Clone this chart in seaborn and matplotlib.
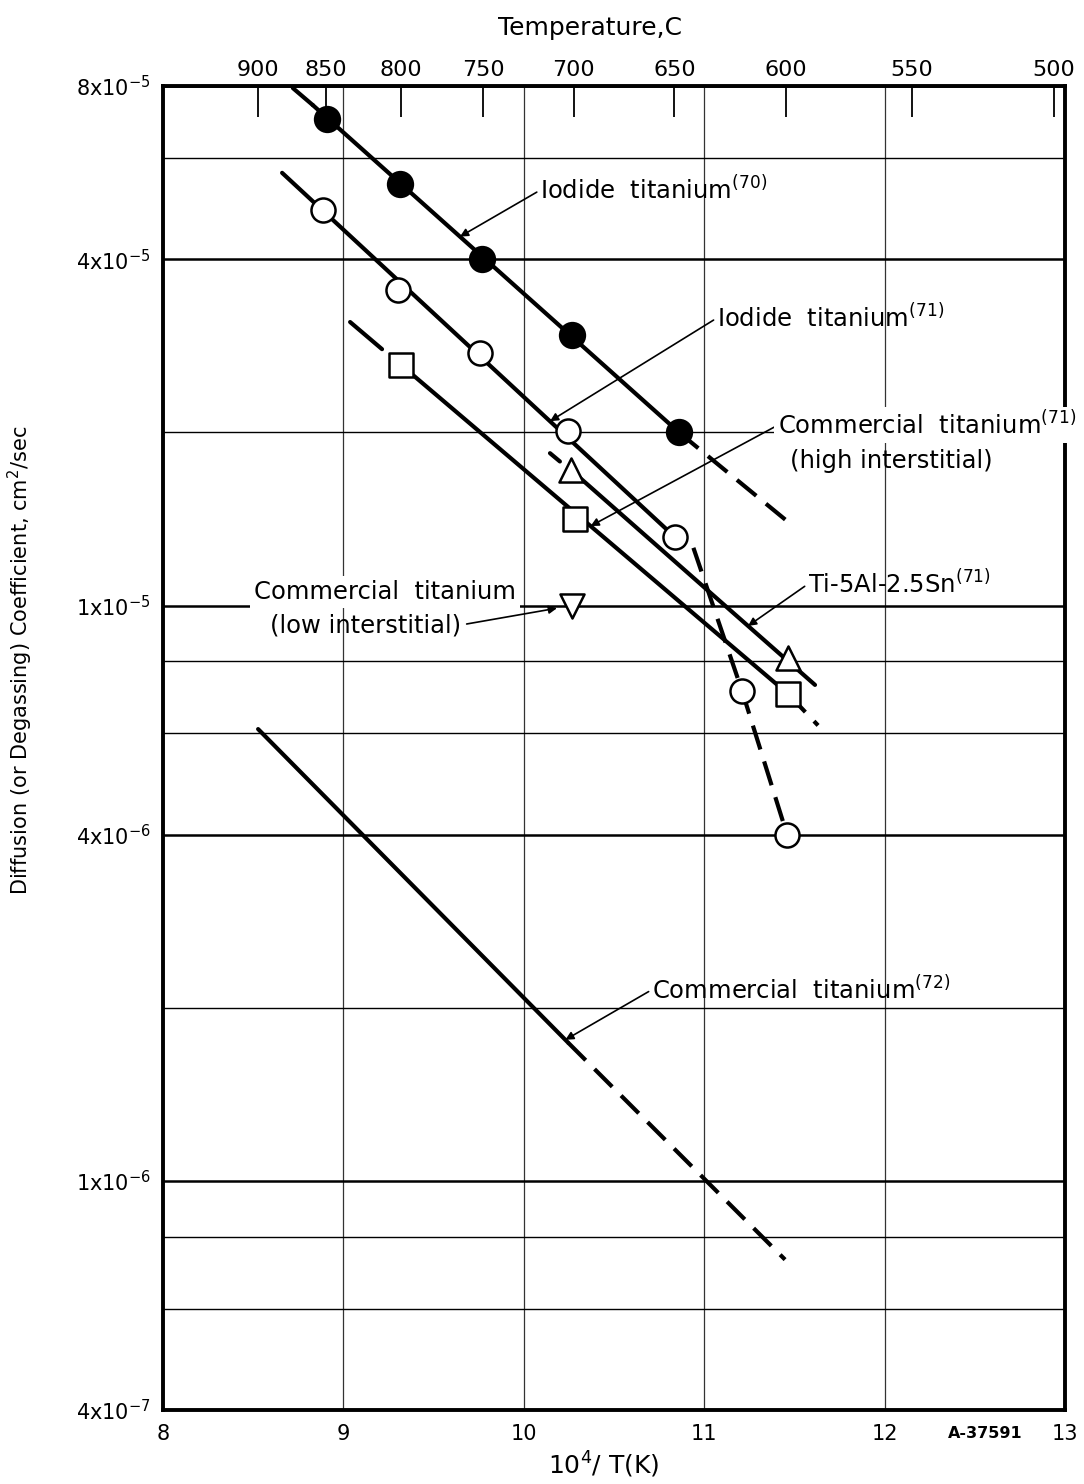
import numpy as np
import matplotlib
matplotlib.use('Agg')
import matplotlib.pyplot as plt
import seaborn as sns
from matplotlib.ticker import FixedLocator, FixedFormatter, NullFormatter

sns.set_style('white')
plt.rcParams['font.family'] = ['DejaVu Sans']
plt.rcParams['mathtext.fontset'] = 'dejavusans'
plt.rcParams['text.color'] = 'black'
plt.rcParams['axes.labelcolor'] = 'black'
plt.rcParams['xtick.color'] = 'black'
plt.rcParams['ytick.color'] = 'black'

# ---- values (x = 10^4/T(K), D in cm2/sec) ----
# Iodide titanium (70) - filled circles
iod70_x = [8.909, 9.314, 9.768, 10.267, 10.860]
iod70_d = [7.0e-5, 5.4e-5, 4.0e-5, 2.95e-5, 2.0e-5]
iod70_solid_x = [8.83, 10.86]
iod70_solid_d = [7.41e-5, 2.0e-5]
iod70_dash_x = [10.86, 11.45]
iod70_dash_d = [2.0e-5, 1.41e-5]
iod70_lead_x = [8.72, 8.83]
iod70_lead_d = [7.93e-5, 7.41e-5]

# Iodide titanium (71) - open circles
iod71_x = [8.887, 9.303, 9.757, 10.245, 10.838, 11.21, 11.459]
iod71_d = [4.87e-5, 3.53e-5, 2.75e-5, 2.01e-5, 1.315e-5, 7.1e-6, 4.0e-6]
iod71_solid_x = [8.66, 10.838]
iod71_solid_d = [5.65e-5, 1.315e-5]
iod71_dash_x = [10.94, 11.21, 11.459]
iod71_dash_d = [1.26e-5, 7.1e-6, 4.0e-6]

# Commercial titanium (71), high interstitial - squares
sq_x = [9.319, 10.284, 11.465]
sq_d = [2.62e-5, 1.415e-5, 7.02e-6]
sq_solid_x = [9.319, 11.465]
sq_solid_d = [2.62e-5, 7.02e-6]
sq_lead_x = [9.037, 9.214]
sq_lead_d = [3.11e-5, 2.79e-5]
sq_tail_x = [11.465, 11.631]
sq_tail_d = [7.02e-6, 6.19e-6]

# Ti-5Al-2.5Sn (71) - triangles
tri_x = [10.262, 11.465]
tri_d = [1.72e-5, 8.11e-6]
tri_solid_x = [10.262, 11.614]
tri_solid_d = [1.72e-5, 7.28e-6]
tri_lead_x = [10.145, 10.20]
tri_lead_d = [1.84e-5, 1.78e-5]

# Commercial titanium, low interstitial - inverted triangle
low_x = [10.267]
low_d = [1.0e-5]

# Commercial titanium (72)
c72_solid_x = [8.527, 10.245]
c72_solid_d = [6.10e-6, 1.74e-6]
c72_dash_x = [10.245, 11.448]
c72_dash_d = [1.74e-6, 7.30e-7]

temps_c = [900, 850, 800, 750, 700, 650, 600, 550, 500]
x_ticks = [8, 9, 10, 11, 12, 13]
y_major = [8e-5, 4e-5, 1e-5, 4e-6, 1e-6, 4e-7]
y_major_lbl = [r'8x10$^{-5}$', r'4x10$^{-5}$', r'1x10$^{-5}$',
               r'4x10$^{-6}$', r'1x10$^{-6}$', r'4x10$^{-7}$']
y_minor = [6e-5, 2e-5, 8e-6, 6e-6, 2e-6, 8e-7, 6e-7]


def on_line(xs, ds, x):
    # point on a straight line of the log plot, for leader targets
    return 10 ** np.interp(x, xs, np.log10(ds))


fig = plt.figure(figsize=(10.84, 14.84), dpi=100)
ax = fig.add_axes([0.1504, 0.0499, 0.8321, 0.8922])
ax.set_yscale('log')
ax.set_xlim(8, 13)
ax.set_ylim(4e-7, 8e-5)

LW = 3
DASH = (0, (6, 3))

# solid lines
for xs, ds in [(iod70_solid_x, iod70_solid_d), (iod71_solid_x, iod71_solid_d),
               (sq_solid_x, sq_solid_d), (tri_solid_x, tri_solid_d),
               (c72_solid_x, c72_solid_d)]:
    sns.lineplot(x=xs, y=ds, ax=ax, color='black', lw=LW, estimator=None, zorder=3)

# dashed parts / short lead dashes
for xs, ds in [(iod70_dash_x, iod70_dash_d), (iod71_dash_x, iod71_dash_d),
               (sq_tail_x, sq_tail_d), (c72_dash_x, c72_dash_d)]:
    sns.lineplot(x=xs, y=ds, ax=ax, color='black', lw=LW, estimator=None,
                 linestyle=DASH, zorder=3)
for xs, ds in [(iod70_lead_x, iod70_lead_d), (sq_lead_x, sq_lead_d),
               (tri_lead_x, tri_lead_d)]:
    sns.lineplot(x=xs, y=ds, ax=ax, color='black', lw=LW, estimator=None, zorder=3)

# markers
sns.scatterplot(x=iod70_x, y=iod70_d, ax=ax, marker='o', s=330, color='black',
                edgecolor='black', linewidth=1.5, zorder=5)
sns.scatterplot(x=iod71_x, y=iod71_d, ax=ax, marker='o', s=300, color='white',
                edgecolor='black', linewidth=1.8, zorder=5)
sns.scatterplot(x=sq_x, y=sq_d, ax=ax, marker='s', s=280, color='white',
                edgecolor='black', linewidth=1.8, zorder=5)
sns.scatterplot(x=tri_x, y=tri_d, ax=ax, marker='^', s=300, color='white',
                edgecolor='black', linewidth=1.8, zorder=5)
sns.scatterplot(x=low_x, y=low_d, ax=ax, marker='v', s=300, color='white',
                edgecolor='black', linewidth=1.8, zorder=5)

# axes / grid
ax.xaxis.set_major_locator(FixedLocator(x_ticks))
ax.set_xticklabels([str(v) for v in x_ticks])
ax.yaxis.set_major_locator(FixedLocator(y_major))
ax.yaxis.set_major_formatter(FixedFormatter(y_major_lbl))
ax.yaxis.set_minor_locator(FixedLocator(y_minor))
ax.yaxis.set_minor_formatter(NullFormatter())
ax.xaxis.set_minor_locator(FixedLocator([]))
ax.grid(which='major', axis='y', color='black', lw=1.8)
ax.grid(which='minor', axis='y', color='black', lw=1.0)
ax.grid(which='major', axis='x', color='#333333', lw=0.9)
ax.set_axisbelow(True)
ax.tick_params(axis='both', which='both', length=0)
ax.tick_params(axis='x', pad=10, labelsize=15)
ax.tick_params(axis='y', pad=9, labelsize=15)
for sp in ax.spines.values():
    sp.set_linewidth(2.8)
    sp.set_color('black')

ax.set_xlabel('')
ax.set_ylabel('Diffusion (or Degassing) Coefficient, cm$^2$/sec', fontsize=15)
ax.yaxis.set_label_coords(-0.142, 0.566)

# top temperature scale
ax2 = ax.twiny()
ax2.set_xlim(8, 13)
ax2.set_xticks([1e4 / (t + 273.0) for t in temps_c])
ax2.set_xticklabels([str(t) for t in temps_c])
ax2.tick_params(axis='x', direction='in', length=22, width=1.3, labelsize=16, pad=4)
ax2.grid(False)
for sp in ax2.spines.values():
    sp.set_visible(False)

# labels with leader lines
arrow = dict(arrowstyle='-|>', lw=1.2, color='black', mutation_scale=12,
             shrinkA=0, shrinkB=0, relpos=(0, 0.5))
FS = 17.5
box = dict(fc='white', ec='none', pad=3)

ax.annotate(r'Iodide  titanium$^{(70)}$', xy=(9.646, on_line(iod70_solid_x, iod70_solid_d, 9.646)),
            xytext=(10.09, 5.27e-5), ha='left', va='center', fontsize=FS,
            arrowprops=arrow)
ax.annotate(r'Iodide  titanium$^{(71)}$', xy=(10.145, on_line(iod71_solid_x, iod71_solid_d, 10.145)),
            xytext=(11.07, 3.16e-5), ha='left', va='center', fontsize=FS,
            arrowprops=arrow)
ax.annotate(r'Commercial  titanium$^{(71)}$', xy=(10.37, on_line(sq_solid_x, sq_solid_d, 10.37)),
            xytext=(11.41, 2.06e-5), ha='left', va='center', fontsize=FS,
            arrowprops=arrow, bbox=box, zorder=4, annotation_clip=False)
ax.text(11.476, 1.78e-5, '(high interstitial)', ha='left', va='center', fontsize=FS)
ax.annotate(r'Ti-5Al-2.5Sn$^{(71)}$', xy=(11.243, on_line(tri_solid_x, tri_solid_d, 11.243)),
            xytext=(11.575, 1.09e-5), ha='left', va='center', fontsize=FS,
            arrowprops=arrow)
ax.text(9.23, 1.055e-5, 'Commercial  titanium', ha='center', va='center',
        fontsize=FS, bbox=box, zorder=4)
ax.annotate('(low interstitial)', xy=(low_x[0], low_d[0]),
            xytext=(9.12, 9.25e-6), ha='center', va='center', fontsize=FS,
            arrowprops=dict(arrowstyle='-|>', lw=1.2, color='black', mutation_scale=12,
                            shrinkA=2, shrinkB=11, relpos=(1, 0.5)))
ax.annotate(r'Commercial  titanium$^{(72)}$', xy=(10.23, on_line(c72_solid_x, c72_solid_d, 10.23)),
            xytext=(10.71, 2.15e-6), ha='left', va='center', fontsize=FS,
            arrowprops=arrow)

fig.text(590 / 1084, 1 - 28 / 1484, 'Temperature,C', ha='center', va='center', fontsize=18)
fig.text(604 / 1084, 1 - 1465 / 1484, r'10$^4$/ T(K)', ha='center', va='center', fontsize=18)
fig.text(985 / 1084, 1 - 1434 / 1484, 'A-37591', ha='center', va='center',
         fontsize=11.5, fontweight='bold')

fig.savefig('out.png', dpi=100)
